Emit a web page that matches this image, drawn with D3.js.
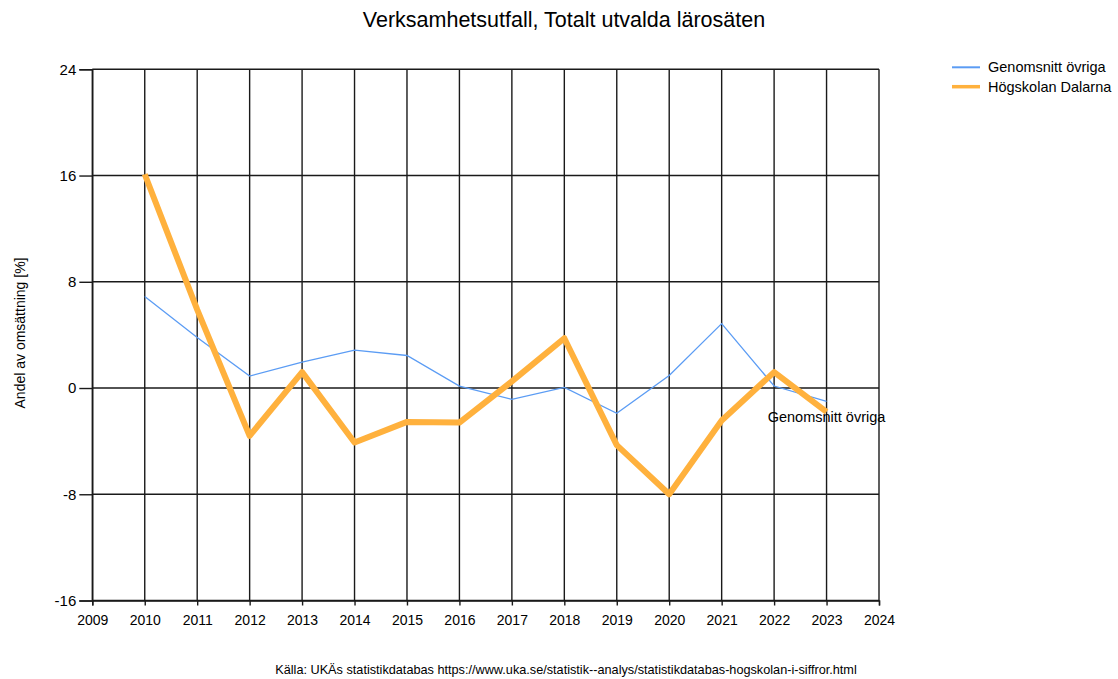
<!DOCTYPE html>
<html><head><meta charset="utf-8">
<script src="https://cdn.jsdelivr.net/npm/d3@7"></script>
<style>body{margin:0;background:#fff}svg{display:block;font-family:"Liberation Sans",Arial,sans-serif}</style>
</head><body><svg id="c" width="1118" height="679"></svg>
<script>
const years = [2010,2011,2012,2013,2014,2015,2016,2017,2018,2019,2020,2021,2022,2023];
const genomsnitt = [6.9,3.8,0.9,1.95,2.85,2.45,0.15,-0.85,0.05,-1.9,0.95,4.85,0.15,-1.0];
const dalarna = [16.1,5.9,-3.6,1.2,-4.1,-2.55,-2.6,0.5,3.75,-4.3,-8.0,-2.45,1.2,-1.8];
const xTicks = d3.range(2009,2025);
const yTicks = [-16,-8,0,8,16,24];
const seriesNames = ["Genomsnitt övriga","Högskolan Dalarna"];
const colors = ["#5b9cf4","#ffb13d"];

const svg = d3.select("#c");
const L=92.3,R=879,T=69.3,B=600.5;
const x = d3.scaleLinear().domain([2009,2024]).range([L,R]);
const y = d3.scaleLinear().domain([-16,24]).range([B,T]);
const ink = "#1a1a1a";

// grid
const g = svg.append("g");
g.selectAll(".vx").data(xTicks).join("line")
 .attr("x1",d=>x(d)).attr("x2",d=>x(d)).attr("y1",T).attr("y2",B)
 .attr("stroke",ink).attr("stroke-width",1.4);
g.selectAll(".hy").data(yTicks).join("line")
 .attr("x1",L).attr("x2",R).attr("y1",d=>y(d)).attr("y2",d=>y(d))
 .attr("stroke",ink).attr("stroke-width",1.4);

// axes
const ax = svg.append("g").attr("transform",`translate(0,${B})`)
 .call(d3.axisBottom(x).tickValues(xTicks).tickFormat(d=>String(d)).tickSize(5).tickPadding(10));
const ay = svg.append("g").attr("transform",`translate(${L},0)`)
 .call(d3.axisLeft(y).tickValues(yTicks).tickFormat(d=>String(d)).tickSize(13).tickPadding(3));
[ax,ay].forEach(a=>{
  a.select(".domain").attr("stroke",ink).attr("stroke-width",1.4);
  a.selectAll(".tick line").attr("stroke",ink).attr("stroke-width",1.4);
  a.selectAll("text").attr("fill","#000").attr("font-family","Liberation Sans, Arial, sans-serif");
});
ax.selectAll("text").attr("font-size",14);
ay.selectAll("text").attr("font-size",15);

const line = d3.line().x((d,i)=>x(years[i])).y(d=>y(d));
svg.append("path").datum(genomsnitt).attr("d",line).attr("fill","none")
 .attr("stroke",colors[0]).attr("stroke-width",1.3);
svg.append("path").datum(dalarna).attr("d",line).attr("fill","none")
 .attr("stroke",colors[1]).attr("stroke-width",6).attr("stroke-linejoin","round");

// end label
svg.append("text").attr("x",x(years[years.length-1])).attr("y",y(genomsnitt[genomsnitt.length-1])+21)
 .attr("text-anchor","middle").attr("font-size",14.5).attr("fill","#000").text(seriesNames[0]);

// title
svg.append("text").attr("x",564).attr("y",26.5).attr("text-anchor","middle")
 .attr("font-size",21.5).attr("fill","#000").text("Verksamhetsutfall, Totalt utvalda lärosäten");

// y label
svg.append("text").attr("transform","translate(25,333) rotate(-90)").attr("text-anchor","middle")
 .attr("font-size",14).attr("fill","#000").text("Andel av omsättning [%]");

// source
svg.append("text").attr("x",566).attr("y",674).attr("text-anchor","middle")
 .attr("font-size",12.7).attr("fill","#000")
 .text("Källa: UKÄs statistikdatabas https://www.uka.se/statistik--analys/statistikdatabas-hogskolan-i-siffror.html");

// legend
const lg = svg.append("g");
seriesNames.forEach((n,i)=>{
  const yy = 67.3 + i*19.4;
  lg.append("line").attr("x1",952).attr("x2",980).attr("y1",yy).attr("y2",yy)
    .attr("stroke",colors[i]).attr("stroke-width",i===0?2:3.5);
  lg.append("text").attr("x",988).attr("y",yy+5).attr("font-size",14.5).attr("fill","#000").text(n);
});
</script></body></html>
